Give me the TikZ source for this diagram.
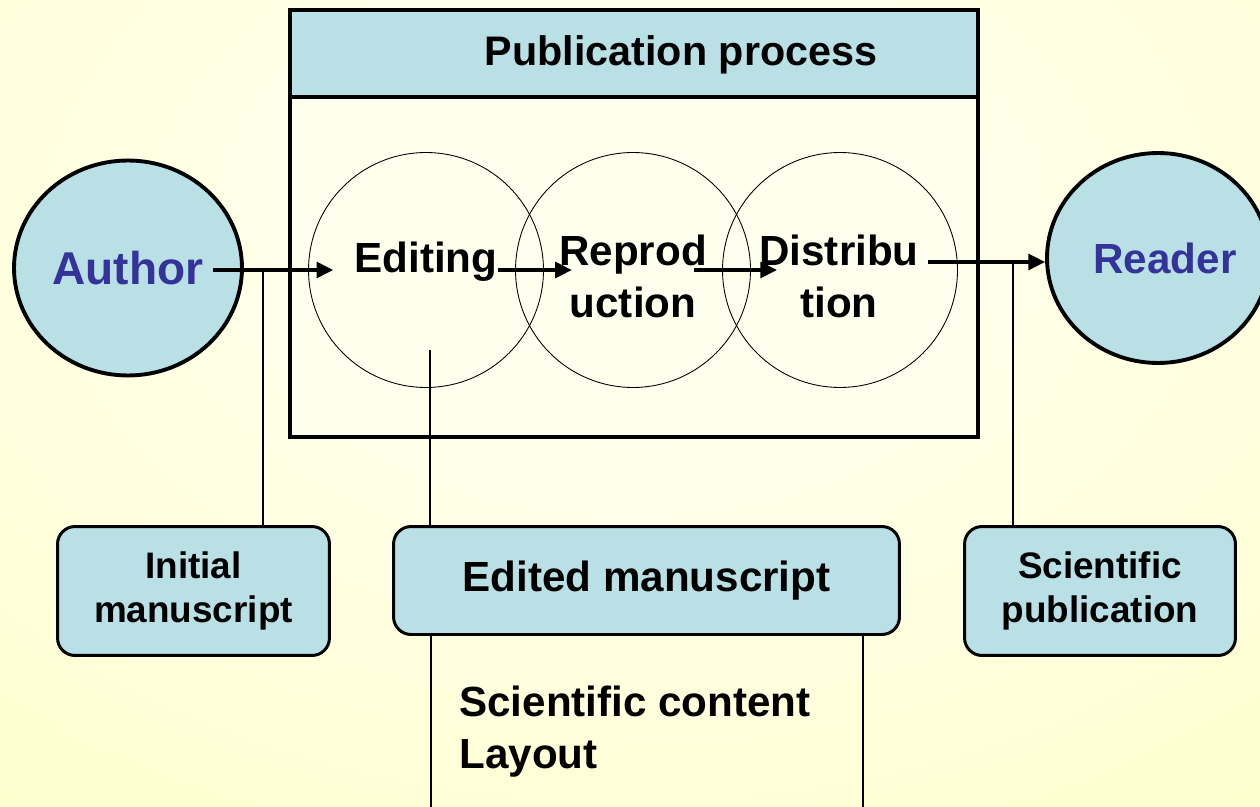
\documentclass[tikz,border=0pt]{standalone}
\usepackage{fontspec}
\setmainfont{Liberation Sans}
\usetikzlibrary{shapes.geometric,arrows.meta}

\definecolor{boxblue}{RGB}{185,224,228}
\definecolor{nameblue}{RGB}{51,51,153}
\definecolor{bgedge}{RGB}{255,255,200}
\definecolor{bgmid}{RGB}{255,255,246}
\definecolor{paper}{RGB}{255,255,238}

\begin{document}
\begin{tikzpicture}[x=0.02cm,y=-0.02cm,
  person/.style={shape=ellipse,draw=black,line width=2.2pt,fill=boxblue,text=nameblue,inner sep=0pt},
  stage/.style={shape=circle,draw=black,line width=0.5pt,minimum size=4.7cm,inner sep=0pt},
  stagetext/.style={inner sep=0pt,align=center,font=\bfseries\fontsize{24}{29.6}\selectfont},
  doc/.style={draw=black,line width=1.7pt,fill=boxblue,rounded corners=10pt,inner sep=0pt,align=center},
  flow/.style={line width=2pt,-{Triangle[length=9.5pt,width=9pt]}},
  link/.style={line width=1pt}]
\useasboundingbox (0,0) rectangle (1260,807);

% background
\begin{scope}
\clip (0,0) rectangle (1260,807);
\shade[inner color=bgmid,outer color=bgedge] (630,230) ellipse [x radius=1260,y radius=860];
\end{scope}

% publication process frame
\draw[line width=2.3pt,fill=paper] (290,10) rectangle (978,437);
\draw[line width=2.3pt,fill=boxblue] (290,10) rectangle (978,97);
\node[inner sep=0pt,anchor=base,font=\bfseries\fontsize{23.5}{28}\selectfont] (title) at (681,66) {Publication process};

\node[stage] (ce) at (426,270) {};
\node[stage] (cr) at (633,270) {};
\node[stage] (cd) at (840,270) {};

\node[stagetext,anchor=base] (edit) at (426,273) {Editing};
\node[stagetext,anchor=north] (repro) at (633,235) {Reprod\\uction};
\node[stagetext,anchor=north] (distr) at (839,235) {Distribu\\tion};

\node[person,minimum width=4.56cm,minimum height=4.3cm,font=\bfseries\fontsize{26.2}{31}\selectfont] (author) at (128,268) {Author};
\node[person,minimum width=4.4cm,minimum height=4.2cm,font=\bfseries\fontsize{24}{29}\selectfont] (reader) at (1158,258) {\kern0.28cm Reader};

% flow
\draw[flow,shorten <=1.7cm,shorten >=0.42cm] ([yshift=-0.04cm]author.center) -- ([yshift=-0.04cm]author.center -| edit.west);
\draw[flow,shorten >=-0.26cm] ([yshift=0.06cm]edit.base east) -- ([yshift=0.06cm]edit.base east -| repro.west);
\draw[flow,shorten <=-0.26cm,shorten >=-0.36cm] ([yshift=-0.7cm]repro.north east) -- ([yshift=-0.7cm]repro.north east -| distr.west);
\draw[flow,shorten <=0.18cm] ([yshift=-0.54cm]distr.north east) -- ([yshift=-0.54cm]distr.north east -| reader.west);

% documents
\node[doc,minimum width=5.44cm,minimum height=2.58cm,font=\bfseries\fontsize{21}{25}\selectfont] (initial) at (193.5,591) {Initial\\manuscript};
\node[doc,minimum width=10.12cm,minimum height=2.16cm,font=\bfseries\fontsize{24}{29}\selectfont] (edited) at (646.5,580.5) {Edited manuscript};
\node[doc,minimum width=5.42cm,minimum height=2.58cm,font=\bfseries\fontsize{21}{25.5}\selectfont] (scipub) at (1100,591) {Scientific\\publication};

\coordinate (tapA) at (263,270);
\coordinate (tapE) at (430,350);
\coordinate (tapR) at (1013,262);
\draw[link] (tapA) -- (tapA |- initial.north);
\draw[link] (tapE) -- (tapE |- edited.north);
\draw[link] (tapR) -- (tapR |- scipub.north);

\coordinate (legL) at (431,807);
\coordinate (legR) at (863,807);
\draw[link] (legL |- edited.south) -- (legL);
\draw[link] (legR |- edited.south) -- (legR);
\node[anchor=north west,inner sep=0pt,align=left,font=\bfseries\fontsize{24}{29.2}\selectfont] (aspects) at (459,686) {Scientific content\\Layout};
\end{tikzpicture}
\end{document}
